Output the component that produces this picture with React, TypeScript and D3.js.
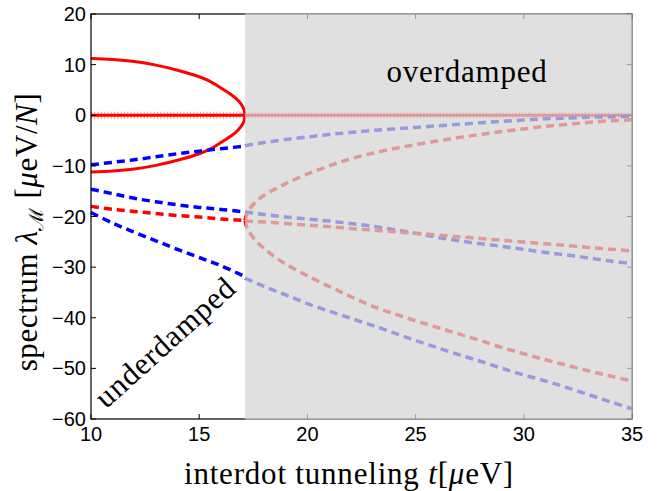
import * as d3 from 'd3';

// interdot tunneling t (μeV)
const tUnder = [10, 11, 12, 13, 14, 15, 16, 17.12];
const tOver = [17.12, 18, 19, 20, 21, 22, 23, 24, 25, 26, 27, 28, 29, 30, 31, 32, 33, 34, 35];
const tBranch = [17.12, 17.2, 17.4, 17.7, 18, 18.5, 19, 20, 21, 22, 23, 24, 25, 26, 27, 28, 29, 30, 31, 32, 33, 34, 35];
const tEllipse = [10, 11, 12, 13, 14, 15, 15.5, 16, 16.5, 16.8, 17.0, 17.08, 17.12];
const tZeroUnder = [10, 17.12];
const tZeroOver = [17.12, 35];
const crossover = [17.12, 35];

// spectrum values (μeV/N)
const ellipseUpper = [11.2, 11.0, 10.6, 9.9, 8.9, 7.6, 6.7, 5.4, 4.0, 2.9, 1.8, 1.0, 0];
const ellipseLower = [-11.2, -11.0, -10.6, -9.9, -8.9, -7.6, -6.7, -5.4, -4.0, -2.9, -1.8, -1.0, 0];
const zeroUnder = [0, 0];
const zeroOver = [0, 0];

const blueUnderA = [-9.8, -9.3, -8.8, -8.2, -7.6, -7.1, -6.6, -6.1];
const blueUnderB = [-14.6, -15.5, -16.4, -17.1, -17.7, -18.2, -18.6, -19.1];
const redUnder = [-18.0, -18.6, -19.0, -19.4, -19.8, -20.1, -20.5, -20.8];
const blueUnderC = [-19.2, -21.3, -23.1, -24.8, -26.5, -28.1, -29.7, -31.9];

const blueOverA = [-6.0, -5.4, -4.8, -4.3, -3.8, -3.4, -3.0, -2.7, -2.4, -2.1, -1.8, -1.5, -1.2, -0.95, -0.7, -0.55, -0.4, -0.3, -0.2];
const blueOverB = [-19.1, -19.6, -20.1, -20.5, -20.9, -21.4, -21.9, -22.6, -23.3, -24.1, -24.8, -25.4, -25.9, -26.5, -27.1, -27.6, -28.2, -28.8, -29.3];
const redOverMid = [-20.9, -21.1, -21.4, -21.7, -22.0, -22.35, -22.7, -23.0, -23.3, -23.65, -24.0, -24.35, -24.7, -25.05, -25.4, -25.75, -26.1, -26.45, -26.8];
const blueOverC = [-32.2, -33.8, -35.5, -37.2, -38.7, -40.1, -41.5, -43.0, -44.5, -45.9, -47.3, -48.6, -50.0, -51.3, -52.5, -53.8, -55.2, -56.6, -58.0];
const redOverUp = [-20.8, -19.5, -18.1, -16.8, -15.8, -14.6, -13.5, -11.6, -10.0, -8.6, -7.5, -6.6, -5.8, -5.1, -4.4, -3.8, -3.2, -2.7, -2.2, -1.8, -1.4, -1.1, -0.9];
const redOverDown = [-20.8, -22.1, -23.6, -25.2, -26.3, -28.0, -29.4, -31.7, -33.8, -35.8, -37.7, -39.2, -40.6, -41.9, -43.2, -44.5, -45.9, -47.1, -48.3, -49.4, -50.5, -51.5, -52.5];

const xTicks = [10, 15, 20, 25, 30, 35];
const yTicks = [20, 10, 0, -10, -20, -30, -40, -50, -60];

const W = 657;
const H = 491;
const RED = '#ff0000';
const BLUE = '#0000ff';

export default function App() {
  const x = d3.scaleLinear().domain([10, 35]).range([91, 632]);
  const y = d3.scaleLinear().domain([-60, 20]).range([419, 14]);

  const line = (ts: number[], vs: number[]) =>
    d3.line<number>()
      .x((_, i) => x(ts[i]))
      .y(v => y(v))
      .curve(d3.curveCatmullRom)(vs) || '';

  // ellipse as one path running through the tip
  const ellipsePath = d3.line<[number, number]>()
    .x(d => x(d[0]))
    .y(d => y(d[1]))
    .curve(d3.curveCatmullRom)([
      ...tEllipse.map((t, i) => [t, ellipseUpper[i]] as [number, number]),
      ...tEllipse.slice(0, -1).map((t, i) => [t, ellipseLower[i]] as [number, number]).reverse(),
    ]) || '';

  const dashed = (ts: number[], vs: number[], color: string, key: string) => (
    <path key={key} d={line(ts, vs)} fill="none" stroke={color} strokeWidth={3.5} strokeDasharray="8 5" />
  );

  const [x0, x1] = x.range();
  const [yb, yt] = y.range();
  const serif = '"Liberation Serif", "Times New Roman", serif';
  const sans = '"Liberation Sans", Arial, Helvetica, sans-serif';

  return (
    <svg width={W} height={H} style={{ position: 'absolute', left: 0, top: 0, background: '#fff' }}>
      {/* zero branch */}
      {[[tZeroUnder, zeroUnder], [tZeroOver, zeroOver]].map(([ts, vs], i) => (
        <g key={'z' + i}>
          <path d={line(ts, vs)} stroke={RED} strokeWidth={3} fill="none" />
          <path d={line(ts, vs)} stroke={RED} strokeWidth={7} strokeOpacity={0.4} strokeDasharray="1 2.3" fill="none" />
        </g>
      ))}
      <path d={ellipsePath} fill="none" stroke={RED} strokeWidth={3} />

      {dashed(tUnder, blueUnderA, BLUE, 'ba')}
      {dashed(tUnder, blueUnderB, BLUE, 'bb')}
      {dashed(tUnder, redUnder, RED, 'r')}
      {dashed(tUnder, blueUnderC, BLUE, 'bc')}

      {dashed(tOver, blueOverA, BLUE, 'oba')}
      {dashed(tOver, blueOverB, BLUE, 'obb')}
      {dashed(tOver, redOverMid, RED, 'orm')}
      {dashed(tOver, blueOverC, BLUE, 'obc')}
      {dashed(tBranch, redOverUp, RED, 'oru')}
      {dashed(tBranch, redOverDown, RED, 'ord')}

      {/* axes box with inward ticks */}
      <rect x={x0} y={yt} width={x1 - x0} height={yb - yt} fill="none" stroke="#000" strokeWidth={1.2} />
      {xTicks.map(t => (
        <g key={'xt' + t}>
          <line x1={x(t)} x2={x(t)} y1={yb} y2={yb - 5} stroke="#000" strokeWidth={1} />
          <line x1={x(t)} x2={x(t)} y1={yt} y2={yt + 5} stroke="#000" strokeWidth={1} />
        </g>
      ))}
      {yTicks.map(v => (
        <g key={'yt' + v}>
          <line x1={x0} x2={x0 + 5} y1={y(v)} y2={y(v)} stroke="#000" strokeWidth={1} />
          <line x1={x1} x2={x1 - 5} y1={y(v)} y2={y(v)} stroke="#000" strokeWidth={1} />
        </g>
      ))}

      {/* overdamped shading */}
      <rect x={x(crossover[0])} y={yt - 0.6} width={x(crossover[1]) - x(crossover[0]) + 0.6} height={yb - yt + 1.2}
        fill="rgb(212,212,212)" fillOpacity={0.72} />

      {xTicks.map(t => (
        <text key={'xl' + t} x={x(t)} y={yb + 22} textAnchor="middle" fontFamily={sans} fontSize={20}>{t}</text>
      ))}
      {yTicks.map(v => (
        <text key={'yl' + v} x={x0 - 5} y={y(v) + 7} textAnchor="end" fontFamily={sans} fontSize={20}>
          {v < 0 ? '\u2212' + Math.abs(v) : v}
        </text>
      ))}

      <text x={467} y={82} textAnchor="middle" fontFamily={serif} fontSize={31} letterSpacing={0.8}>overdamped</text>
      <text transform="translate(172,350) rotate(-42)" textAnchor="middle" fontFamily={serif} fontSize={31} letterSpacing={0.8}>underdamped</text>

      <text x={349} y={484} textAnchor="middle" fontFamily={serif} fontSize={31} letterSpacing={0.8}>
        interdot tunneling <tspan fontStyle="italic">t</tspan>[<tspan fontStyle="italic">μ</tspan>eV]
      </text>
      <text transform="translate(37,232) rotate(-90)" textAnchor="middle" fontFamily={serif} fontSize={31} letterSpacing={0.6}>
        spectrum <tspan fontStyle="italic">λ</tspan><tspan fontSize={20} dy={6}>ℳ</tspan>
        <tspan dy={-6}> [</tspan><tspan fontStyle="italic">μ</tspan>eV/<tspan fontStyle="italic">N</tspan>]
      </text>
    </svg>
  );
}
